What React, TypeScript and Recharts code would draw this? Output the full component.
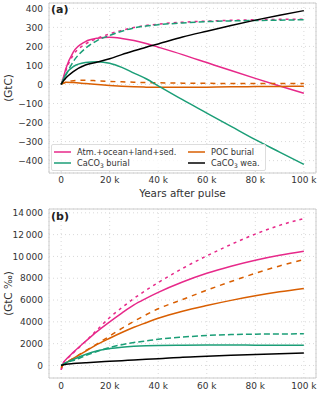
import React from 'react'
import {
  LineChart, Line, XAxis, YAxis, CartesianGrid, ReferenceArea,
} from 'recharts'

// Years after the carbon pulse
const YEARS = [0, 1000, 2000, 5000, 10000, 15000, 20000, 25000, 30000, 35000, 40000, 50000, 60000, 70000, 80000, 90000, 100000]

// Panel (a): cumulative fluxes (GtC)
const A_TOTAL = [0, 40, 85, 170, 225, 243, 248, 242, 231, 215, 196, 157, 115, 73, 32, -8, -46]
const A_TOTAL_D = [0, 35, 75, 155, 212, 243, 266, 285, 299, 310, 317, 327, 333, 337, 340, 342, 343]
const A_CACO3 = [0, 30, 55, 94, 115, 120, 112, 90, 60, 30, -7, -80, -150, -220, -290, -355, -420]
const A_CACO3_D = [0, 25, 50, 120, 190, 232, 258, 280, 297, 307, 314, 323, 330, 334, 336, 338, 340]
const A_POC = [0, 8, 12, 10, 5, 0, -5, -9, -12, -14, -15, -15, -14, -12, -11, -10, -9]
const A_POC_D = [0, 7, 12, 20, 22, 19, 16, 14, 12, 10, 9, 7, 6, 5, 5, 5, 5]
const A_WEA = [0, 20, 35, 68, 102, 118, 135, 157, 177, 196, 213, 249, 280, 310, 338, 364, 388]

// Panel (b): isotopic fluxes (GtC ‰)
const B_TOTAL = [-400, 280, 550, 1200, 2200, 3150, 4000, 4800, 5550, 6150, 6700, 7650, 8450, 9100, 9650, 10100, 10470]
const B_TOTAL_D = [-400, 250, 500, 1150, 2200, 3300, 4400, 5300, 6150, 6900, 7600, 8900, 10050, 11100, 12050, 12850, 13480]
const B_POC = [-200, 120, 250, 650, 1300, 1950, 2500, 3020, 3500, 3920, 4330, 4980, 5500, 5970, 6390, 6750, 7060]
const B_POC_D = [-200, 120, 250, 650, 1350, 2000, 2700, 3400, 4050, 4650, 5200, 6050, 6900, 7700, 8450, 9130, 9720]
const B_CACO3 = [0, 130, 250, 550, 1000, 1350, 1550, 1680, 1760, 1810, 1840, 1860, 1870, 1870, 1865, 1860, 1850]
const B_CACO3_D = [0, 130, 250, 450, 900, 1300, 1650, 1900, 2100, 2250, 2400, 2600, 2750, 2830, 2870, 2890, 2900]
const B_WEA = [0, 60, 110, 180, 250, 320, 380, 440, 500, 560, 620, 760, 850, 930, 1010, 1080, 1150]

const A_TICKS = [-400, -300, -200, -100, 0, 100, 200, 300, 400]
const B_TICKS = [0, 2000, 4000, 6000, 8000, 10000, 12000, 14000]
const X_TICKS = [0, 20000, 40000, 60000, 80000, 100000]

const PINK = '#e7298a'
const GREEN = '#1b9e77'
const ORANGE = '#d95f02'
const BLACK = '#000000'
const TEXT = '#333333'
const FONT = 'DejaVu Sans, sans-serif'

const dataA = YEARS.map((x, i) => ({
  x, total: A_TOTAL[i], totalD: A_TOTAL_D[i], caco3: A_CACO3[i], caco3D: A_CACO3_D[i],
  poc: A_POC[i], pocD: A_POC_D[i], wea: A_WEA[i],
}))
const dataB = YEARS.map((x, i) => ({
  x, total: B_TOTAL[i], totalD: B_TOTAL_D[i], caco3: B_CACO3[i], caco3D: B_CACO3_D[i],
  poc: B_POC[i], pocD: B_POC_D[i], wea: B_WEA[i],
}))

const fmtX = (v: number) => (v === 0 ? '0' : `${v / 1000} k`)
const fmtA = (v: number) => String(v).replace('-', '\u2212')
const fmtB = (v: number) => (v >= 10000 ? `${Math.floor(v / 1000)}\u2009${String(v % 1000).padStart(3, '0')}` : String(v))

const tick = { fill: TEXT, fontSize: 9, fontFamily: FONT }
const X_DOM: [number, number] = [-5000, 105000]
const A_DOM: [number, number] = [-465, 428]
const B_DOM: [number, number] = [-1150, 14350]

const CaCO3 = () => (
  <span>CaCO<span style={{ fontSize: 6, position: 'relative', top: 2 }}>3</span></span>
)

function LegendBox() {
  const item = (color: string, label: React.ReactNode) => (
    <div style={{ display: 'flex', alignItems: 'center', height: 11.5, whiteSpace: 'nowrap' }}>
      <svg width={17} height={4} style={{ marginRight: 6 }}>
        <line x1={0} y1={2} x2={17} y2={2} stroke={color} strokeWidth={1.5} />
      </svg>
      <span>{label}</span>
    </div>
  )
  return (
    <div style={{
      position: 'absolute', left: 51, top: 144, width: 215, height: 27, boxSizing: 'border-box',
      display: 'flex', background: 'rgba(255,255,255,0.8)', border: '1px solid #dddddd', borderRadius: 2,
      padding: '1px 0 0 2px', fontSize: 8.2, fontFamily: FONT, color: TEXT,
    }}>
      <div style={{ width: 134 }}>
        {item(PINK, 'Atm.+ocean+land+sed.')}
        {item(GREEN, <><CaCO3 /> burial</>)}
      </div>
      <div>
        {item(ORANGE, 'POC burial')}
        {item(BLACK, <><CaCO3 /> wea.</>)}
      </div>
    </div>
  )
}

function series() {
  return [
    <Line key="t" dataKey="total" stroke={PINK} strokeWidth={1.5} dot={false} type="monotone" isAnimationActive={false} />,
    <Line key="td" dataKey="totalD" stroke={PINK} strokeWidth={1.5} strokeDasharray="3 4" dot={false} type="monotone" isAnimationActive={false} />,
    <Line key="p" dataKey="poc" stroke={ORANGE} strokeWidth={1.5} dot={false} type="monotone" isAnimationActive={false} />,
    <Line key="pd" dataKey="pocD" stroke={ORANGE} strokeWidth={1.5} strokeDasharray="5 5" dot={false} type="monotone" isAnimationActive={false} />,
    <Line key="c" dataKey="caco3" stroke={GREEN} strokeWidth={1.5} dot={false} type="monotone" isAnimationActive={false} />,
    <Line key="cd" dataKey="caco3D" stroke={GREEN} strokeWidth={1.5} strokeDasharray="6 3" dot={false} type="monotone" isAnimationActive={false} />,
    <Line key="w" dataKey="wea" stroke={BLACK} strokeWidth={1.5} dot={false} type="monotone" isAnimationActive={false} />,
  ]
}

function PanelLabel({ text, top }: { text: string; top: number }) {
  return (
    <div style={{ position: 'absolute', left: 51, top, fontFamily: FONT, fontWeight: 'bold', fontSize: 11, color: '#222' }}>
      {text}
    </div>
  )
}

export default function App() {
  return (
    <div style={{ position: 'absolute', left: 0, top: 0, width: 320, height: 394, background: '#fff' }}>
      <div style={{ position: 'absolute', left: 0, top: 0 }}>
        <LineChart width={320} height={200} data={dataA} margin={{ top: 3, right: 4, bottom: 0, left: 0 }}>
          <CartesianGrid stroke="#d9d9d9" strokeDasharray="1 3" />
          <XAxis dataKey="x" type="number" domain={X_DOM} ticks={X_TICKS} tickFormatter={fmtX} tick={tick}
            axisLine={false} tickLine={false} tickSize={3} tickMargin={1} height={27} interval={0}
            label={{ value: 'Years after pulse', position: 'insideBottom', offset: 3, fill: TEXT, fontSize: 10.4, fontFamily: FONT }} />
          <YAxis type="number" domain={A_DOM} ticks={A_TICKS} tickFormatter={fmtA} tick={tick} width={49}
            axisLine={false} tickLine={false} tickSize={4} tickMargin={2} interval={0} allowDataOverflow
            label={{ value: '(GtC)', angle: -90, position: 'insideLeft', offset: 8, fill: TEXT, fontSize: 10.4, fontFamily: FONT, style: { textAnchor: 'middle' } }} />
          <ReferenceArea x1={X_DOM[0]} x2={X_DOM[1]} y1={A_DOM[0]} y2={A_DOM[1]} fill="none" stroke="#cccccc" strokeWidth={1} />
          {series()}
        </LineChart>
      </div>
      <LegendBox />
      <PanelLabel text="(a)" top={3} />
      <div style={{ position: 'absolute', left: 0, top: 200 }}>
        <LineChart width={320} height={194} data={dataB} margin={{ top: 9, right: 4, bottom: 0, left: 0 }}>
          <CartesianGrid stroke="#d9d9d9" strokeDasharray="1 3" />
          <XAxis dataKey="x" type="number" domain={X_DOM} ticks={X_TICKS} tickFormatter={fmtX} tick={tick}
            axisLine={false} tickLine={false} tickSize={4} tickMargin={1} height={16} interval={0} />
          <YAxis type="number" domain={B_DOM} ticks={B_TICKS} tickFormatter={fmtB} tick={tick} width={49}
            axisLine={false} tickLine={false} tickSize={4} tickMargin={2} interval={0} allowDataOverflow
            label={{ value: '(GtC \u2030)', angle: -90, position: 'insideLeft', offset: 8, fill: TEXT, fontSize: 10.4, fontFamily: FONT, style: { textAnchor: 'middle' } }} />
          <ReferenceArea x1={X_DOM[0]} x2={X_DOM[1]} y1={B_DOM[0]} y2={B_DOM[1]} fill="none" stroke="#cccccc" strokeWidth={1} />
          {series()}
        </LineChart>
      </div>
      <PanelLabel text="(b)" top={210} />
    </div>
  )
}
